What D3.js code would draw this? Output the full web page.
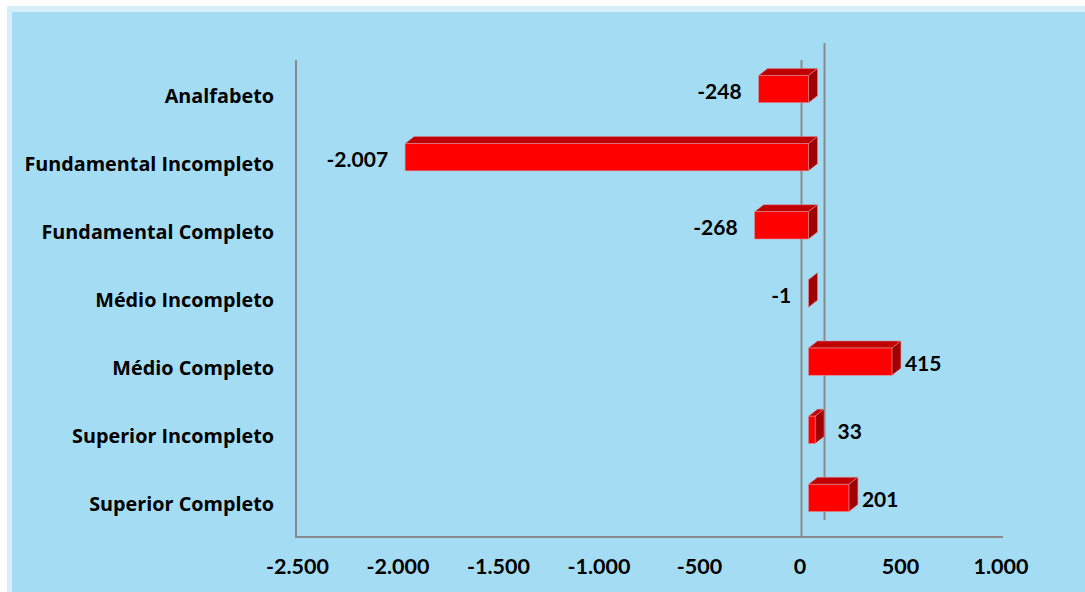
<!DOCTYPE html>
<html><head><meta charset="utf-8">
<script src="https://cdn.jsdelivr.net/npm/d3@7"></script>
<style>
html,body{margin:0;padding:0;background:#fff;}
svg{display:block;}
text{font-family:Lato,"Open Sans",sans-serif;font-weight:700;fill:#000;}
text.cat{font-family:"Open Sans",Lato,sans-serif;}
</style></head>
<body>
<script>
const categories = ["Analfabeto","Fundamental Incompleto","Fundamental Completo","Médio Incompleto","Médio Completo","Superior Incompleto","Superior Completo"];
const values = [-248,-2007,-268,-1,415,33,201];
const valueLabels = ["-248","-2.007","-268","-1","415","33","201"];
const tickValues = [-2500,-2000,-1500,-1000,-500,0,500,1000];
const tickLabels = ["-2.500","-2.000","-1.500","-1.000","-500","0","500","1.000"];

const W = 1085, H = 592;
const svg = d3.select("body").append("svg").attr("width", W).attr("height", H);

// outer frame
svg.append("rect").attr("x",7).attr("y",6).attr("width",W-7).attr("height",H-6).attr("fill","#d6eef8");
svg.append("rect").attr("x",12).attr("y",12).attr("width",W-12).attr("height",H-12).attr("fill","#a4ddf3");

const x = d3.scaleLinear().domain([-2500,1000]).range([297.5,1001]);
const y = d3.scaleBand().domain(categories).range([60,537]).paddingInner(0.6).paddingOuter(0.3);
const yc = d3.scaleBand().domain(categories).range([60,537]);

const frontShift = 8.5;   // front plane offset
const dx = 9, dy = -7;    // bar depth
const backDx = 23, backDy = -17;

const grey = "#8a8a8a";
// axes lines
svg.append("line").attr("x1",296).attr("x2",296).attr("y1",60).attr("y2",537).attr("stroke",grey).attr("stroke-width",2);
svg.append("line").attr("x1",295).attr("x2",1003).attr("y1",537).attr("y2",537).attr("stroke",grey).attr("stroke-width",2);
svg.append("line").attr("x1",x(0)+1.5).attr("x2",x(0)+1.5).attr("y1",60).attr("y2",537).attr("stroke",grey).attr("stroke-width",2);
svg.append("line").attr("x1",x(0)+1.5+backDx).attr("x2",x(0)+1.5+backDx).attr("y1",60+backDy).attr("y2",537+backDy).attr("stroke",grey).attr("stroke-width",2);

// tick labels
svg.selectAll(".tick").data(tickValues).enter().append("text")
  .attr("x", d=>x(d)).attr("y", 566).attr("text-anchor","middle").attr("dominant-baseline","central")
  .style("font-size","21.5px").text((d,i)=>tickLabels[i]);

// category labels
svg.selectAll(".cat").data(categories).enter().append("text").attr("class","cat")
  .attr("x", 274).attr("y", d=>yc(d)+yc.bandwidth()/2+1).attr("text-anchor","end").attr("dominant-baseline","central")
  .style("font-size","19.8px").text(d=>d);

// bars
const bh = y.bandwidth();
const g = svg.append("g");
categories.forEach((c,i)=>{
  const v = values[i];
  const x0 = x(0)+frontShift, x1 = x(v)+frontShift;
  const left = Math.min(x0,x1), right = Math.max(x0,x1);
  const top = yc(c)+yc.bandwidth()/2 - 5 - bh/2, bot = top+bh;
  const edge = "#d98a95";
  // top face
  g.append("path").attr("d",`M${left},${top}L${left+dx},${top+dy}L${right+dx},${top+dy}L${right},${top}Z`)
    .attr("fill","#c00000").attr("stroke",edge).attr("stroke-width",0.6);
  // side face
  g.append("path").attr("d",`M${right},${top}L${right+dx},${top+dy}L${right+dx},${bot+dy}L${right},${bot}Z`)
    .attr("fill","#a00000").attr("stroke",edge).attr("stroke-width",0.6);
  // front face
  g.append("rect").attr("x",left).attr("y",top).attr("width",Math.max(right-left,0.01)).attr("height",bh)
    .attr("fill","#ff0000").attr("stroke",edge).attr("stroke-width",0.6);
  // label
  const backLine = x(0)+1.5+backDx;
  const ly = top+bh/2+1;
  if (v<0) {
    g.append("text").attr("x", left-17).attr("y", ly).attr("text-anchor","end").attr("dominant-baseline","central")
      .style("font-size","21px").text(valueLabels[i]);
  } else {
    g.append("text").attr("x", Math.max(right, backLine)+13).attr("y", ly).attr("text-anchor","start").attr("dominant-baseline","central")
      .style("font-size","21px").text(valueLabels[i]);
  }
});
</script>
</body></html>
